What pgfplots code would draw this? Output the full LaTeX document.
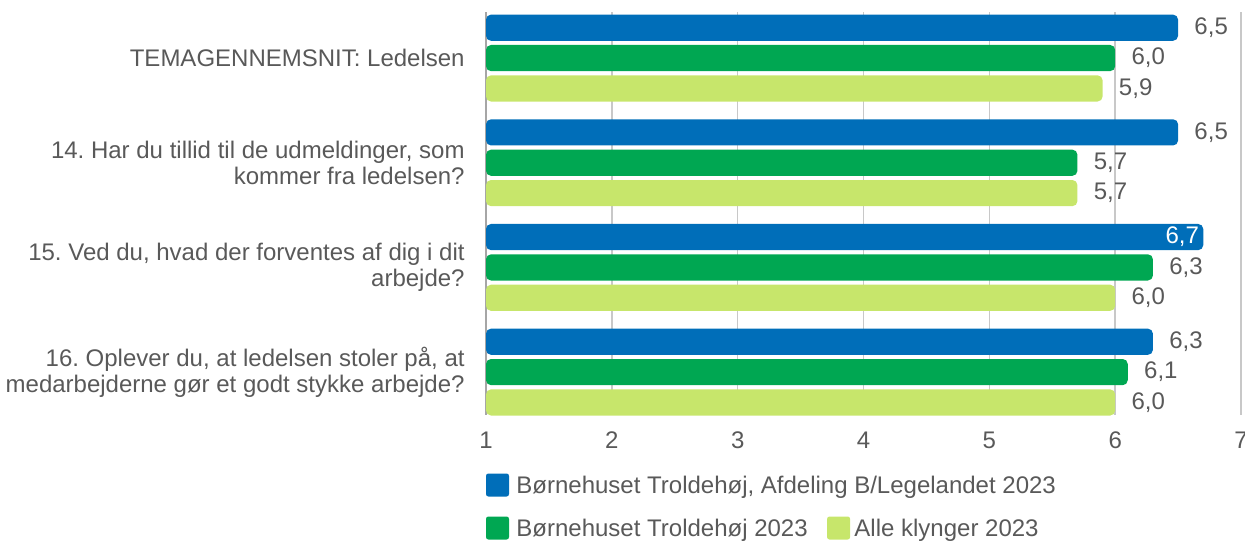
\documentclass[border=0pt]{standalone}
\usepackage{pgfplots}
\pgfplotsset{compat=1.18}
\usepackage{fontspec}
\setmainfont{Liberation Sans}
\definecolor{cblue}{HTML}{006EB9}
\definecolor{cgreen}{HTML}{00A752}
\definecolor{clight}{HTML}{C7E66B}
\definecolor{ctext}{HTML}{595959}
\definecolor{cgrid}{HTML}{C8C8C8}
\definecolor{caxis}{HTML}{A6A6A6}
\pgfplotstableread{
y v
-0.29 6.5
0.71 6.5
2.71 6.3
}\blue
\pgfplotstableread{
y v
1.71 6.7
}\blueinside
\pgfplotstableread{
y v
0 6.0
1 5.7
2 6.3
3 6.1
}\green
\pgfplotstableread{
y v
0.29 5.9
1.29 5.7
2.29 6.0
3.29 6.0
}\light
\newcommand\lblfont{\fontsize{12}{13}\selectfont}
\begin{document}
\frenchspacing
\lblfont
\begin{tikzpicture}
\useasboundingbox (0,0) rectangle (622.5pt,-270pt);
\begin{axis}[
  at={(243pt,-207.5pt)}, anchor=south west,
  scale only axis, width=377.5pt, height=201.5pt,
  xmin=1, xmax=7,
  xtick={2,...,7},
  extra x ticks={1}, extra x tick labels={1},
  extra x tick style={grid style={caxis, line width=1.3pt}},
  ymin=-0.44, ymax=3.41, y dir=reverse,
  ytick={0,1,2,3},
  yticklabels={{TEMAGENNEMSNIT: Ledelsen},{14. Har du tillid til de udmeldinger, som\\kommer fra ledelsen?},{15. Ved du, hvad der forventes af dig i dit\\arbejde?},{16. Oplever du, at ledelsen stoler på, at\\medarbejderne gør et godt stykke arbejde?}},
  yticklabel style={align=right, text=ctext, font=\lblfont, xshift=-6.5pt},
  xticklabel style={text=ctext, font=\lblfont, yshift=-4.3pt},
  major tick length=0pt,
  tick style={draw=none},
  axis line style={draw=none},
  xmajorgrids, grid style={cgrid, line width=0.7pt},
  xbar, bar width=0.25, bar shift=0pt,
  point meta=x,
  nodes near coords={\pgfmathprintnumber[fixed, fixed zerofill, precision=1, use comma]{\pgfplotspointmeta}},
  nodes near coords style={text=ctext, font=\lblfont, xshift=4pt},
  /pgf/number format/assume math mode=true,
]
\addplot[fill=cblue, draw=none, rounded corners=2.5pt] table[x=v, y=y] {\blue};
\addplot[fill=cblue, draw=none, rounded corners=2.5pt,
  nodes near coords style={anchor=east, text=white, xshift=-2pt}] table[x=v, y=y] {\blueinside};
\addplot[fill=cgreen, draw=none, rounded corners=2.5pt] table[x=v, y=y] {\green};
\addplot[fill=clight, draw=none, rounded corners=2.5pt] table[x=v, y=y] {\light};
\end{axis}
% legend
\fill[cblue, rounded corners=1.2pt] (243pt,-236.75pt) rectangle (254.5pt,-248.25pt);
\node[anchor=base west, inner sep=0pt, text=ctext] at (258pt,-246.5pt) {Børnehuset Troldehøj, Afdeling B/Legelandet 2023};
\fill[cgreen, rounded corners=1.2pt] (243pt,-258.25pt) rectangle (254.5pt,-269.75pt);
\node[anchor=base west, inner sep=0pt, text=ctext] (g) at (258pt,-268.3pt) {Børnehuset Troldehøj 2023};
\fill[clight, rounded corners=1.2pt] ([xshift=9.5pt]g.base east) ++(0,-1.45pt) rectangle ++(11.5pt,11.5pt);
\node[anchor=base west, inner sep=0pt, text=ctext] at ([xshift=23pt]g.base east) {Alle klynger 2023};
\end{tikzpicture}
\end{document}
